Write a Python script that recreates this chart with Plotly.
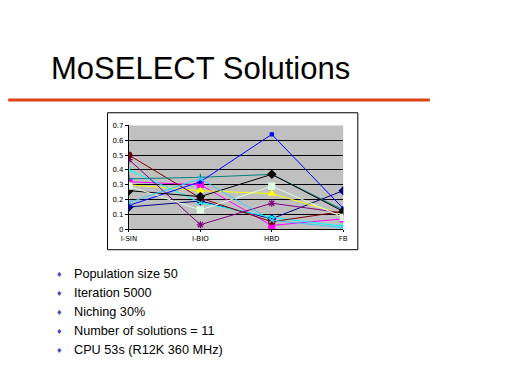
import plotly.graph_objects as go

categories = ["I-SIN", "I-BIO", "HBD", "FB"]
s1 = [0.15, 0.19, 0.07, 0.26]
s2 = [0.32, 0.30, 0.025, 0.07]
s3 = [0.30, 0.26, 0.24, 0.10]
s4 = [0.40, 0.18, 0.08, 0.02]
s5 = [0.47, 0.03, 0.175, 0.11]
s6 = [0.50, 0.21, 0.05, 0.12]
s7 = [0.34, 0.35, 0.37, 0.13]
s8 = [0.16, 0.32, 0.64, 0.14]
s9 = [0.26, 0.22, 0.37, 0.12]
s10 = [0.29, 0.13, 0.29, 0.08]
s11 = [0.18, 0.34, 0.06, 0.01]
y_ticks = [0, 0.1, 0.2, 0.3, 0.4, 0.5, 0.6, 0.7]
y_tick_labels = ["0", "0.1", "0.2", "0.3", "0.4", "0.5", "0.6", "0.7"]
title_text = "MoSELECT Solutions"
bullets = ["Population size 50", "Iteration 5000", "Niching 30%",
           "Number of solutions = 11", "CPU 53s (R12K 360 MHz)"]

series = [
    (s1, "#000080", "diamond", 6),
    (s2, "#FF00FF", "square", 6),
    (s3, "#FFFF00", "triangle-up", 6),
    (s4, "#00FFFF", "x-thin", 5),
    (s5, "#800080", "asterisk", 6),
    (s6, "#800000", "circle", 6),
    (s7, "#008080", "cross-thin", 5),
    (s8, "#0000FF", "square", 3),
    (s9, "#000000", "diamond", 6),
    (s10, "#E0FFE0", "square", 6),
    (s11, "#33CCFF", "x-thin", 5),
]

fig = go.Figure()
for vals, col, sym, sz in series:
    fig.add_trace(go.Scatter(
        x=list(range(len(categories))), y=vals, mode="lines+markers",
        line=dict(color=col, width=1),
        marker=dict(symbol=sym, size=sz, color=col,
                    line=dict(color=col, width=1.2)),
        showlegend=False, hoverinfo="skip"))

OFF = 8
W, H = 512 - 2 * OFF, 384 - 2 * OFF
def px(x):
    return (x - OFF) / W
def py(y):
    return 1 - (y - OFF) / H

axis_font = dict(size=7, color="black", family="DejaVu Sans, sans-serif")
fig.update_layout(
    width=W, height=H, margin=dict(l=0, r=0, t=0, b=0),
    paper_bgcolor="white", plot_bgcolor="#C0C0C0",
    font=dict(family="Liberation Sans, Arial, sans-serif", color="black"),
    xaxis=dict(domain=[px(124), px(344)], range=[0, 3],
               tickmode="array", tickvals=list(range(len(categories))),
               ticktext=categories, showgrid=False, zeroline=False,
               showline=True, linecolor="black", linewidth=1,
               ticks="outside", ticklen=2, tickcolor="black",
               tickfont=axis_font, fixedrange=True),
    yaxis=dict(domain=[py(230), py(124)], range=[0, 0.7],
               tickmode="array", tickvals=y_ticks, ticktext=y_tick_labels,
               showgrid=True, gridcolor="black", gridwidth=1,
               zeroline=False, showline=True, linecolor="black", linewidth=1,
               ticks="outside", ticklen=3, tickcolor="black",
               tickfont=axis_font, fixedrange=True),
)

shapes = [
    dict(type="rect", xref="paper", yref="paper",
         x0=px(102), x1=px(359), y0=py(251), y1=py(111),
         line=dict(color="black", width=1), fillcolor="rgba(0,0,0,0)",
         layer="below"),
    dict(type="line", xref="paper", yref="paper",
         x0=px(0), x1=px(433), y0=py(98), y1=py(98),
         line=dict(color="#DC4418", width=3)),
]
fig.update_layout(shapes=shapes)

annotations = [
    dict(text=title_text, x=px(42), y=py(65.5), xref="paper", yref="paper",
         xanchor="left", yanchor="middle", showarrow=False,
         font=dict(size=31, color="black",
                   family="Liberation Sans, Arial, sans-serif")),
]
bullet_y = [275.5, 295, 314.5, 334, 354]
for txt, yy in zip(bullets, bullet_y):
    annotations.append(dict(text="\u2666", x=px(53), y=py(yy), xref="paper",
                            yref="paper", xanchor="center", yanchor="middle",
                            showarrow=False,
                            font=dict(size=9, color="#4848C0")))
    annotations.append(dict(text=txt, x=px(65.5), y=py(yy), xref="paper",
                            yref="paper", xanchor="left", yanchor="middle",
                            showarrow=False,
                            font=dict(size=12.7, color="black",
                                      family="Liberation Sans, Arial, sans-serif")))
fig.update_layout(annotations=annotations)

fig.write_html("out.html")
